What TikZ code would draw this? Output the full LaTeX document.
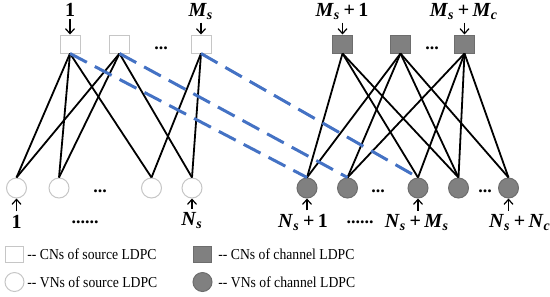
\documentclass[tikz,border=0pt]{standalone}
\usepackage{fontspec}
\setmainfont{Liberation Serif}
\newfontfamily\legendfont[FakeStretch=0.9]{Liberation Serif}
\usepackage{xcolor}
\usepackage{tikz}
\usetikzlibrary{arrows.meta, positioning}
\definecolor{LinkBlue}{RGB}{68,114,196}
\definecolor{NodeGray}{RGB}{128,128,128}
\newcommand{\symsub}[2]{\textit{#1}\textsubscript{\textit{#2}}}

\begin{document}
\begin{tikzpicture}[
    x=0.5pt, y=-0.5pt,
    srccn/.style={rectangle, draw=gray!45, fill=white, line width=0.5pt,
                  minimum width=10pt, minimum height=9pt, inner sep=0pt},
    chcn/.style={rectangle, draw=NodeGray!85!black, fill=NodeGray, line width=0.5pt,
                 minimum width=10pt, minimum height=9pt, inner sep=0pt},
    srcvn/.style={circle, draw=gray!45, fill=white, line width=0.5pt,
                  minimum size=10pt, inner sep=0pt},
    chvn/.style={circle, draw=NodeGray!85!black, fill=NodeGray, line width=0.5pt,
                 minimum size=10pt, inner sep=0pt},
    edge/.style={line width=0.9pt, black},
    link/.style={line width=1.5pt, LinkBlue, dash pattern=on 9.5pt off 4.5pt},
    inarrow/.style={-{Straight Barb[length=2.5pt, width=4.5pt]}, line width=0.6pt},
    idx/.style={font=\fontsize{10}{12}\selectfont\bfseries, inner sep=1.5pt, anchor=base},
    gap/.style={font=\fontsize{9}{11}\selectfont\bfseries, inner sep=0pt, anchor=base},
    legend/.style={font=\legendfont\fontsize{7.6}{9}\selectfont, anchor=west, inner sep=0pt}
]
\useasboundingbox (0,0) rectangle (550,296);

% Source LDPC - check nodes
\node[srccn] (s1) at (70,44) {};
\node[srccn] (s2) at (119.5,44) {};
\node[srccn] (s3) at (201,44) {};
\node[gap] (sdots) at (161,49) {...};

% Source LDPC - variable nodes
\node[srcvn] (v1) at (16.5,188) {};
\node[srcvn] (v2) at (59,188) {};
\node[srcvn] (v3) at (151.5,188) {};
\node[srcvn] (v4) at (192,188) {};
\node[gap] (vdots) at (100,192) {...};

% Channel LDPC - check nodes
\node[chcn] (c1) at (342.5,44) {};
\node[chcn] (c2) at (400.5,44) {};
\node[chcn] (c3) at (464.5,44) {};
\node[gap] (cdots) at (432,49) {...};

% Channel LDPC - variable nodes
\node[chvn] (w1) at (307,188) {};
\node[chvn] (w2) at (347.5,188) {};
\node[chvn] (w3) at (418,188) {};
\node[chvn] (w4) at (458.5,188) {};
\node[chvn] (w5) at (508.5,188) {};
\node[gap] (wdotsa) at (378,192) {...};
\node[gap] (wdotsb) at (485,192) {...};

% Edges
\foreach \a/\b in {s1/v1, s1/v2, s1/v3, s2/v1, s2/v2, s2/v4, s3/v3, s3/v4,
                   c1/w1, c1/w3, c1/w4, c2/w1, c2/w2, c2/w4, c2/w5,
                   c3/w2, c3/w3, c3/w4, c3/w5}
    \draw[edge] (\a.south) -- (\b.north);

% Links between the two codes
\foreach \a/\b in {s1/w1, s2/w2, s3/w3}
    \draw[link] (\a.south) -- (\b.north);

% Top indices
\node[idx] (t1) at (70,16) {1};
\node[idx] (t2) at (201,16) {\symsub{M}{s}};
\node[idx] (t3) at (342,16) {\symsub{M}{s}\,+\,1};
\node[idx] (t4) at (464,16) {\symsub{M}{s}\,+\,\symsub{M}{c}};
\foreach \a/\b in {t1/s1, t2/s3, t3/c1, t4/c3}
    \draw[inarrow] (\b.north |- \a.south) -- (\b.north);

% Bottom indices
\node[idx] (b1) at (16.5,228) {1};
\node[idx] (b2) at (192,225) {\symsub{N}{s}};
\node[idx] (b3) at (303,227) {\symsub{N}{s}\,+\,1};
\node[idx] (b4) at (417,227) {\symsub{N}{s}\,+\,\symsub{M}{s}};
\node[idx] (b5) at (520,227) {\symsub{N}{s}\,+\,\symsub{N}{c}};
\node[gap] (bdotsa) at (85,223) {......};
\node[gap] (bdotsb) at (360,223) {......};
\foreach \a/\b in {b1/v1, b2/v4, b3/w1, b4/w3, b5/w5}
    \draw[inarrow] (\b.south |- \a.north) -- (\b.south);

% Legend
\node[srccn, minimum width=9pt, minimum height=8pt] (ksc) at (14,254) {};
\node[legend] (ksct) at (27,254) {-{}- CNs of source LDPC};
\node[srcvn, minimum size=9.5pt] (ksv) at (14.5,282) {};
\node[legend] (ksvt) at (27,282) {-{}- VNs of source LDPC};
\node[chcn, minimum width=9pt, minimum height=8pt] (kcc) at (202.5,254) {};
\node[legend] (kcct) at (218,254) {-{}- CNs of channel LDPC};
\node[chvn, minimum size=9.5pt] (kcv) at (202.5,282) {};
\node[legend] (kcvt) at (218,282) {-{}- VNs of channel LDPC};

\end{tikzpicture}
\end{document}
